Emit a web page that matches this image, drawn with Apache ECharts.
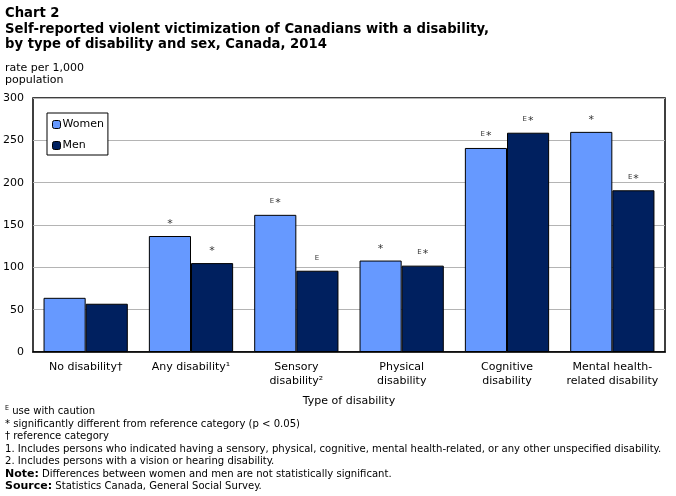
<!DOCTYPE html>
<html>
<head>
<meta charset="utf-8">
<style>
  html, body { margin: 0; padding: 0; background: #fff; }
  #chart { width: 676px; height: 496px; }
</style>
<script src="https://cdn.jsdelivr.net/npm/echarts@6/dist/echarts.min.js"></script>
</head>
<body>
<div id="chart"></div>
<script>
// categories and values (rate per 1,000 population)
const categories = ['No disability†', 'Any disability¹', 'Sensory\ndisability²', 'Physical\ndisability', 'Cognitive\ndisability', 'Mental health-\nrelated disability'];
const women = [64, 137, 162, 108, 241, 260];
const men = [57, 105, 96, 102, 259, 191];
// significance flags over each bar
const womenFlags = ['', '*', 'E*', '*', 'E*', '*'];
const menFlags = ['', '*', 'E', 'E*', 'E*', 'E*'];
const yTicks = [0, 50, 100, 150, 200, 250, 300];

const FONT = 'Verdana, "DejaVu Sans", sans-serif';
const NOTE_FONT = '"DejaVu Sans Condensed", "Liberation Sans", sans-serif';

const chart = echarts.init(document.getElementById('chart'));

// turns "E*" into rich text with small E
const flagText = f => {
    if (!f) return '';
    let s = '';
    if (f.indexOf('E') >= 0) s += '{e|E}';
    if (f.indexOf('*') >= 0) s += '{s|*}';
    return s;
};
const labelRich = {
    e: { fontSize: 7, fontFamily: FONT, color: '#333', verticalAlign: 'top', padding: [0, 1, 3, 0] },
    s: { fontSize: 11, fontFamily: FONT, color: '#333' }
};

const footnotes = [
    '{e|E} use with caution',
    '* significantly different from reference category (p < 0.05)',
    '† reference category',
    '1. Includes persons who indicated having a sensory, physical, cognitive, mental health-related, or any other unspecified disability.',
    '2. Includes persons with a vision or hearing disability.',
    '{b|Note:} Differences between women and men are not statistically significant.',
    '{b|Source:} Statistics Canada, General Social Survey.'
];

const option = {
    animation: false,
    grid: { left: 33, right: 11, top: 98, bottom: 144, show: true, borderColor: '#000', borderWidth: 1.5 },
    legend: {
        orient: 'vertical',
        left: 47, top: 113,
        itemWidth: 8, itemHeight: 8, itemGap: 10,
        padding: [6, 4, 4, 5],
        borderColor: '#000', borderWidth: 1, backgroundColor: '#fff',
        textStyle: { fontFamily: FONT, fontSize: 11, color: '#000', padding: [0, 0, 0, -3] },
        data: [
            { name: 'Women', itemStyle: { borderColor: '#000', borderWidth: 1 } },
            { name: 'Men', itemStyle: { borderColor: '#000', borderWidth: 1 } }
        ]
    },
    xAxis: {
        type: 'category',
        data: categories,
        axisLine: { lineStyle: { color: '#000', width: 1.5 } },
        axisTick: { show: false },
        axisLabel: { fontFamily: FONT, fontSize: 11, color: '#000', margin: 8, lineHeight: 14, interval: 0 },
        name: 'Type of disability',
        nameLocation: 'middle',
        nameGap: 44,
        nameTextStyle: { fontFamily: FONT, fontSize: 11, color: '#000' }
    },
    yAxis: {
        type: 'value',
        min: yTicks[0], max: yTicks[yTicks.length - 1], interval: 50,
        axisLine: { show: false },
        axisTick: { show: false },
        splitLine: { lineStyle: { color: '#b4b4b4', width: 1 } },
        axisLabel: { fontFamily: FONT, fontSize: 11, color: '#000', margin: 9 }
    },
    series: [
        {
            name: 'Women', type: 'bar', data: women,
            barGap: '0%', barCategoryGap: '20%',
            itemStyle: { color: '#6699ff', borderColor: '#000', borderWidth: 1 },
            label: {
                show: true, position: 'top', distance: 6,
                formatter: p => flagText(womenFlags[p.dataIndex]),
                rich: labelRich
            }
        },
        {
            name: 'Men', type: 'bar', data: men,
            itemStyle: { color: '#00205f', borderColor: '#000', borderWidth: 1 },
            label: {
                show: true, position: 'top', distance: 6,
                formatter: p => flagText(menFlags[p.dataIndex]),
                rich: labelRich
            }
        }
    ],
    graphic: [
        {
            type: 'text', left: 5, top: 6,
            style: {
                text: 'Chart 2\nSelf-reported violent victimization of Canadians with a disability,\nby type of disability and sex, Canada, 2014',
                font: 'bold 13.2px ' + FONT, lineHeight: 15.5, fill: '#000'
            }
        },
        {
            type: 'text', left: 5, top: 62,
            style: { text: 'rate per 1,000\npopulation', font: '11px ' + FONT, lineHeight: 12, fill: '#000' }
        },
        {
            type: 'text', left: 5, top: 405,
            style: {
                text: footnotes.join('\n'),
                font: '11.2px ' + NOTE_FONT, lineHeight: 12.5, fill: '#000',
                rich: {
                    e: { fontSize: 7, fontFamily: NOTE_FONT, verticalAlign: 'top', lineHeight: 12.5 },
                    b: { fontWeight: 'bold', fontSize: 11, fontFamily: FONT, lineHeight: 12.5 }
                }
            }
        }
    ]
};

chart.setOption(option);
</script>
</body>
</html>
